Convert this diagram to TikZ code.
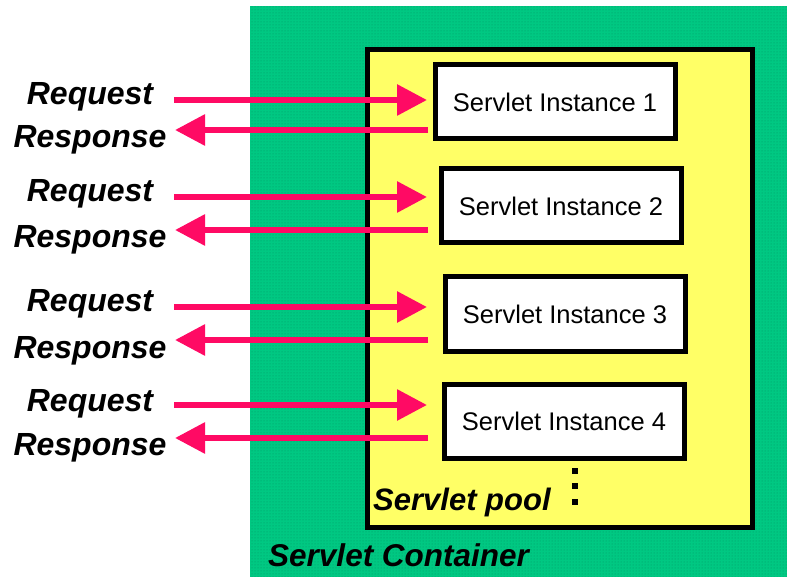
\documentclass[tikz,border=0pt]{standalone}
\usepackage{fontspec}
\setmainfont{Liberation Sans}
\usetikzlibrary{arrows.meta}
\usetikzlibrary{patterns}
\usetikzlibrary{positioning}
\definecolor{containergreen}{RGB}{0,200,130}
\definecolor{dotgreen}{RGB}{0,150,100}
\definecolor{poolyellow}{RGB}{255,255,102}
\definecolor{arrowpink}{RGB}{255,10,100}

\tikzset{
  instance/.style={draw=black, line width=5pt, fill=white, minimum width=240pt, minimum height=74pt, inner sep=0pt, font=\fontsize{25.5}{26}\selectfont},
  reqlabel/.style={font=\fontsize{32}{32}\selectfont\bfseries\itshape, inner sep=0pt, anchor=base},
  flow/.style={arrowpink, line width=6pt, -{Triangle[length=30pt, width=30pt]}}
}

\begin{document}
\begin{tikzpicture}[x=1pt, y=-1pt] % Pixelkoordinaten, y nach unten
\useasboundingbox (0,0) rectangle (787,577);

% Container
\fill[containergreen] (250,6) rectangle (787,577);
\fill[pattern=dots, pattern color=dotgreen] (250,6) rectangle (787,577);
\node[anchor=base west, font=\fontsize{31.5}{32}\selectfont\bfseries\itshape, inner sep=0pt] (container) at (268,566) {Servlet Container};

% Servlet-Pool
\draw[line width=5pt, fill=poolyellow] (367.5,49.5) rectangle (752.5,527.5);
\node[anchor=base west, font=\fontsize{31}{32}\selectfont\bfseries\itshape, inner sep=0pt] (pool) at (373,510) {Servlet pool};
\foreach \y [count=\d] in {471,486,502}
  \fill (572,\y-3) rectangle (578,\y+3); % Punkte

% Instanzen, Pfeile und Beschriftungen
\foreach \i/\bx/\by/\qy/\ry/\qt/\rt in {1/555/102/100/130/105/148, 2/561/206/197/230/202/248, 3/565/314/307/340/312/358, 4/564/421/405/438/411/455} {
  \node[instance] (inst\i) at (\bx,\by) {Servlet Instance \i};
  \node[reqlabel] (req\i) at (90,\qt) {Request}; % Anfrage
  \node[reqlabel] (resp\i) at (90,\rt) {Response}; % Antwort
  \coordinate (qa\i) at (174,\qy);
  \coordinate (qb\i) at (427,\qy);
  \coordinate (ra\i) at (428,\ry);
  \coordinate (rb\i) at (175,\ry);
  \draw[flow] (qa\i) -- (qb\i);
  \draw[flow] (ra\i) -- (rb\i);
}

\end{tikzpicture}
\end{document}
